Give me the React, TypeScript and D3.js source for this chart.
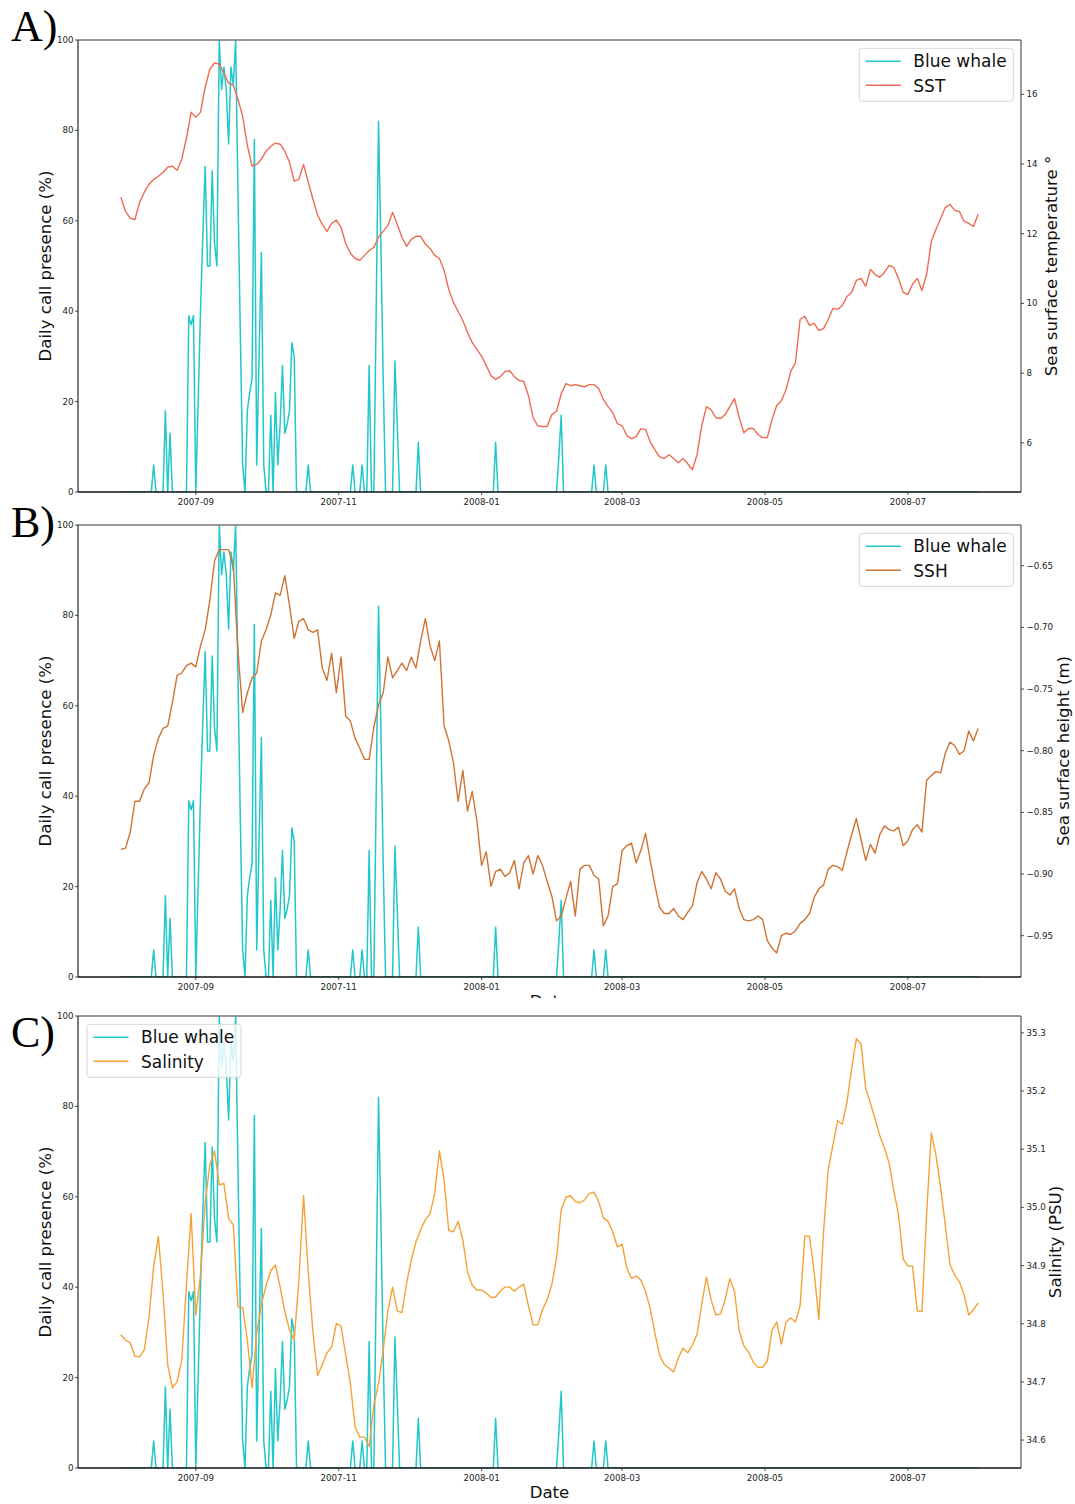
import React from 'react'
import * as d3 from 'd3'

// daily record
const firstDay = '2007-07-31'
const lastDay = '2008-07-31'

// blue whale daily call presence (%), one value per day from firstDay
const blueWhale = [
  0, 0, 0, 0, 0, 0, 0, 0, 0, 0,
  0, 0, 0, 0, 6, 0, 0, 0, 0, 18,
  0, 13, 0, 0, 0, 0, 0, 0, 0, 39,
  37, 39, 0, 20, 40, 57, 72, 50, 50, 71,
  55, 50, 100, 89, 94, 89, 77, 94, 90, 100,
  66, 35, 6, 0, 18, 22, 25, 78, 6, 30,
  53, 6, 0, 0, 17, 0, 22, 6, 15, 28,
  13, 15, 18, 33, 30, 0, 0, 0, 0, 0,
  6, 0, 0, 0, 0, 0, 0, 0, 0, 0,
  0, 0, 0, 0, 0, 0, 0, 0, 0, 6,
  0, 0, 0, 6, 0, 0, 28, 0, 0, 40,
  82, 55, 25, 0, 0, 0, 0, 29, 15, 0,
  0, 0, 0, 0, 0, 0, 0, 11, 0, 0,
  0, 0, 0, 0, 0, 0, 0, 0, 0, 0,
  0, 0, 0, 0, 0, 0, 0, 0, 0, 0,
  0, 0, 0, 0, 0, 0, 0, 0, 0, 0,
  11, 0, 0, 0, 0, 0, 0, 0, 0, 0,
  0, 0, 0, 0, 0, 0, 0, 0, 0, 0,
  0, 0, 0, 0, 0, 0, 0, 8, 17, 0,
  0, 0, 0, 0, 0, 0, 0, 0, 0, 0,
  0, 0, 6, 0, 0, 0, 0, 6, 0, 0,
  0, 0, 0, 0, 0, 0, 0, 0, 0, 0,
  0, 0, 0, 0, 0, 0, 0, 0, 0, 0,
  0, 0, 0, 0, 0, 0, 0, 0, 0, 0,
  0, 0, 0, 0, 0, 0, 0, 0, 0, 0,
  0, 0, 0, 0, 0, 0, 0, 0, 0, 0,
  0, 0, 0, 0, 0, 0, 0, 0, 0, 0,
  0, 0, 0, 0, 0, 0, 0, 0, 0, 0,
  0, 0, 0, 0, 0, 0, 0, 0, 0, 0,
  0, 0, 0, 0, 0, 0, 0, 0, 0, 0,
  0, 0, 0, 0, 0, 0, 0, 0, 0, 0,
  0, 0, 0, 0, 0, 0, 0, 0, 0, 0,
  0, 0, 0, 0, 0, 0, 0, 0, 0, 0,
  0, 0, 0, 0, 0, 0, 0, 0, 0, 0,
  0, 0, 0, 0, 0, 0, 0, 0, 0, 0,
  0, 0, 0, 0, 0, 0, 0, 0, 0, 0,
  0, 0, 0, 0, 0, 0, 0,
]

// environmental series, one value every 2 days from firstDay
const envStepDays = 2

// sea surface temperature (deg C)
const sst = [
  13.05, 12.64, 12.44, 12.41, 12.90, 13.19, 13.42, 13.56, 13.65, 13.76,
  13.91, 13.94, 13.82, 14.14, 14.74, 15.49, 15.34, 15.49, 16.21, 16.72,
  16.90, 16.87, 16.61, 16.32, 16.26, 15.86, 15.37, 14.54, 13.94, 13.99,
  14.14, 14.37, 14.51, 14.60, 14.57, 14.37, 14.05, 13.51, 13.56, 13.99,
  13.48, 12.99, 12.53, 12.27, 12.07, 12.30, 12.39, 12.18, 11.72, 11.44,
  11.29, 11.24, 11.38, 11.52, 11.61, 11.90, 12.07, 12.24, 12.61, 12.27,
  11.90, 11.64, 11.84, 11.93, 11.93, 11.70, 11.58, 11.38, 11.29, 10.95,
  10.40, 10.03, 9.77, 9.51, 9.17, 8.88, 8.68, 8.48, 8.22, 7.93,
  7.82, 7.90, 8.05, 8.07, 7.90, 7.79, 7.76, 7.36, 6.72, 6.49,
  6.47, 6.47, 6.81, 6.90, 7.41, 7.70, 7.64, 7.67, 7.64, 7.61,
  7.67, 7.67, 7.56, 7.24, 7.04, 6.87, 6.55, 6.49, 6.21, 6.12,
  6.18, 6.41, 6.38, 6.03, 5.80, 5.60, 5.55, 5.66, 5.55, 5.43,
  5.55, 5.40, 5.23, 5.66, 6.49, 7.04, 6.95, 6.72, 6.70, 6.81,
  7.04, 7.27, 6.72, 6.29, 6.41, 6.41, 6.24, 6.15, 6.15, 6.67,
  7.07, 7.21, 7.53, 8.05, 8.30, 9.54, 9.63, 9.37, 9.43, 9.22,
  9.28, 9.54, 9.86, 9.83, 9.94, 10.20, 10.32, 10.66, 10.72, 10.49,
  10.98, 10.83, 10.75, 10.89, 11.09, 11.03, 10.72, 10.32, 10.26, 10.55,
  10.72, 10.37, 10.83, 11.78, 12.13, 12.44, 12.76, 12.84, 12.67, 12.64,
  12.36, 12.30, 12.21, 12.56,
]

// sea surface height (m)
const ssh = [
  -0.880, -0.879, -0.866, -0.841, -0.841, -0.831, -0.826, -0.804, -0.790, -0.782,
  -0.780, -0.761, -0.739, -0.737, -0.731, -0.729, -0.732, -0.715, -0.702, -0.678,
  -0.646, -0.637, -0.637, -0.637, -0.650, -0.719, -0.769, -0.753, -0.741, -0.737,
  -0.711, -0.702, -0.690, -0.672, -0.674, -0.658, -0.682, -0.709, -0.695, -0.693,
  -0.702, -0.704, -0.702, -0.733, -0.743, -0.721, -0.753, -0.724, -0.772, -0.776,
  -0.790, -0.798, -0.807, -0.807, -0.781, -0.763, -0.753, -0.724, -0.741, -0.735,
  -0.729, -0.735, -0.724, -0.733, -0.711, -0.693, -0.715, -0.727, -0.711, -0.780,
  -0.792, -0.810, -0.841, -0.816, -0.849, -0.833, -0.857, -0.893, -0.882, -0.910,
  -0.898, -0.896, -0.902, -0.899, -0.889, -0.912, -0.891, -0.885, -0.900, -0.885,
  -0.893, -0.906, -0.918, -0.938, -0.934, -0.920, -0.906, -0.934, -0.896, -0.893,
  -0.893, -0.901, -0.904, -0.942, -0.934, -0.910, -0.908, -0.881, -0.877, -0.875,
  -0.891, -0.881, -0.867, -0.889, -0.909, -0.927, -0.932, -0.932, -0.928, -0.934,
  -0.937, -0.931, -0.926, -0.907, -0.898, -0.904, -0.912, -0.899, -0.904, -0.914,
  -0.917, -0.912, -0.928, -0.937, -0.938, -0.937, -0.934, -0.937, -0.954, -0.960,
  -0.964, -0.950, -0.948, -0.949, -0.946, -0.940, -0.937, -0.932, -0.919, -0.912,
  -0.909, -0.896, -0.893, -0.894, -0.897, -0.882, -0.868, -0.855, -0.872, -0.889,
  -0.876, -0.883, -0.868, -0.861, -0.864, -0.865, -0.862, -0.877, -0.873, -0.864,
  -0.860, -0.866, -0.824, -0.820, -0.817, -0.818, -0.802, -0.793, -0.796, -0.803,
  -0.800, -0.784, -0.792, -0.782,
]

// salinity (PSU)
const salinity = [
  34.781, 34.772, 34.767, 34.744, 34.743, 34.755, 34.810, 34.899, 34.950, 34.853,
  34.729, 34.690, 34.700, 34.737, 34.866, 34.989, 34.815, 34.884, 35.008, 35.074,
  35.097, 35.039, 35.041, 34.981, 34.970, 34.829, 34.828, 34.772, 34.690, 34.784,
  34.833, 34.866, 34.891, 34.901, 34.863, 34.821, 34.789, 34.772, 34.875, 35.020,
  34.889, 34.786, 34.711, 34.730, 34.750, 34.760, 34.800, 34.796, 34.746, 34.697,
  34.622, 34.605, 34.605, 34.589, 34.660, 34.697, 34.755, 34.822, 34.863, 34.822,
  34.819, 34.870, 34.910, 34.941, 34.962, 34.979, 34.989, 35.024, 35.097, 35.046,
  34.960, 34.958, 34.976, 34.944, 34.889, 34.866, 34.858, 34.858, 34.853, 34.845,
  34.846, 34.856, 34.863, 34.863, 34.856, 34.863, 34.868, 34.831, 34.798, 34.798,
  34.824, 34.841, 34.868, 34.913, 34.996, 35.017, 35.020, 35.010, 35.008, 35.013,
  35.024, 35.026, 35.010, 34.982, 34.976, 34.958, 34.932, 34.937, 34.896, 34.878,
  34.882, 34.875, 34.856, 34.826, 34.784, 34.746, 34.730, 34.724, 34.717, 34.741,
  34.758, 34.750, 34.763, 34.782, 34.834, 34.880, 34.841, 34.815, 34.817, 34.841,
  34.878, 34.855, 34.788, 34.762, 34.751, 34.734, 34.725, 34.725, 34.736, 34.789,
  34.803, 34.765, 34.803, 34.810, 34.803, 34.831, 34.951, 34.950, 34.889, 34.807,
  34.958, 35.065, 35.107, 35.149, 35.143, 35.181, 35.239, 35.290, 35.281, 35.205,
  35.179, 35.152, 35.123, 35.102, 35.076, 35.029, 34.988, 34.911, 34.899, 34.899,
  34.822, 34.821, 34.988, 35.128, 35.090, 35.034, 34.969, 34.901, 34.884, 34.872,
  34.850, 34.815, 34.824, 34.836,
]

const callTicks = [0, 20, 40, 60, 80, 100]
const sstTicks = [6, 8, 10, 12, 14, 16]
const sshTicks = [-0.95, -0.9, -0.85, -0.8, -0.75, -0.7, -0.65]
const salinityTicks = [34.6, 34.7, 34.8, 34.9, 35.0, 35.1, 35.2, 35.3]

const width = 1075
const height = 1504
const plotLeft = 78
const plotRight = 1021
const font = 'DejaVu Sans, Verdana, sans-serif'
const whaleColor = '#22c7cb'

const parseDay = d3.utcParse('%Y-%m-%d')
const t0 = parseDay(firstDay) as Date
const t1 = parseDay(lastDay) as Date
// matplotlib-style 5% margin on the date axis
const datePad = (t1.getTime() - t0.getTime()) * 0.05
const xScale = d3
  .scaleUtc()
  .domain([new Date(t0.getTime() - datePad), new Date(t1.getTime() + datePad)])
  .range([plotLeft, plotRight])
const xTicks = xScale.ticks(d3.utcMonth.every(2) as d3.TimeInterval)
const fmtMonth = d3.utcFormat('%Y-%m')

type PanelProps = {
  id: string
  top: number
  bottom: number
  letter: string
  letterY: number
  series: number[]
  color: string
  name: string
  label: string
  labelX: number
  domain: [number, number]
  ticks: number[]
  fmt: (v: number) => string
  legendX: number
  xLabel?: boolean
}

function Panel(p: PanelProps) {
  const yLeft = d3.scaleLinear().domain([0, 100]).range([p.bottom, p.top])
  const yRight = d3.scaleLinear().domain(p.domain).range([p.bottom, p.top])

  const whalePath = d3
    .line<number>()
    .x((_, i) => xScale(d3.utcDay.offset(t0, i)))
    .y(v => yLeft(v))(blueWhale)
  const envPath = d3
    .line<number>()
    .x((_, i) => xScale(d3.utcDay.offset(t0, i * envStepDays)))
    .y(v => yRight(v))(p.series)

  const midY = (p.top + p.bottom) / 2
  const lgTop = p.top + 8.3

  return (
    <g>
      <defs>
        <clipPath id={p.id}>
          <rect x={plotLeft} y={p.top} width={plotRight - plotLeft} height={p.bottom - p.top} />
        </clipPath>
      </defs>

      {/* panel letter */}
      <text x={11} y={p.letterY} fontFamily="Liberation Serif, Times New Roman, serif" fontSize={44} fill="#000">
        {p.letter}
      </text>

      {/* lines */}
      <g clipPath={`url(#${p.id})`}>
        <path d={whalePath ?? ''} fill="none" stroke={whaleColor} strokeWidth={1.5} strokeLinejoin="round" />
        <path d={envPath ?? ''} fill="none" stroke={p.color} strokeWidth={1.4} strokeLinejoin="round" />
      </g>

      {/* frame */}
      <line x1={plotLeft} x2={plotRight} y1={p.top} y2={p.top} stroke="#777" strokeWidth={1.6} />
      <line x1={plotRight} x2={plotRight} y1={p.top} y2={p.bottom} stroke="#555" strokeWidth={1.2} />
      <line x1={plotLeft} x2={plotLeft} y1={p.top} y2={p.bottom} stroke="#111" strokeWidth={1.1} />
      <line x1={plotLeft} x2={plotRight} y1={p.bottom} y2={p.bottom} stroke="#111" strokeWidth={1.3} />

      {/* left axis */}
      {callTicks.map(t => (
        <g key={`l${t}`} transform={`translate(${plotLeft} ${yLeft(t)})`}>
          <line x1={-3} x2={0} stroke="#222" strokeWidth={0.8} />
          <text x={-4.5} dy="0.34em" textAnchor="end" fontFamily={font} fontSize={8.7} fill="#222">{t}</text>
        </g>
      ))}
      <text
        transform={`translate(50.5 ${midY}) rotate(-90)`}
        textAnchor="middle"
        fontFamily={font}
        fontSize={16.6}
        fill="#111"
      >
        Daily call presence (%)
      </text>

      {/* right axis */}
      {p.ticks.map(t => (
        <g key={`r${t}`} transform={`translate(${plotRight} ${yRight(t)})`}>
          <line x1={0} x2={3} stroke="#222" strokeWidth={0.8} />
          <text x={5.5} dy="0.34em" textAnchor="start" fontFamily={font} fontSize={8.7} fill="#222">{p.fmt(t)}</text>
        </g>
      ))}
      <text
        transform={`translate(${p.labelX} ${midY}) rotate(-90)`}
        textAnchor="middle"
        fontFamily={font}
        fontSize={16.6}
        fill="#111"
      >
        {p.label}
      </text>

      {/* date axis */}
      {xTicks.map(t => (
        <g key={t.toISOString()} transform={`translate(${xScale(t)} ${p.bottom})`}>
          <line y1={0} y2={3} stroke="#222" strokeWidth={0.8} />
          <text y={12.5} textAnchor="middle" fontFamily={font} fontSize={8.7} fill="#222">{fmtMonth(t)}</text>
        </g>
      ))}
      {p.xLabel && (
        <text x={(plotLeft + plotRight) / 2} y={p.bottom + 30} textAnchor="middle" fontFamily={font} fontSize={16.6} fill="#111">
          Date
        </text>
      )}

      {/* legend */}
      <g transform={`translate(${p.legendX} ${lgTop})`}>
        <rect width={154} height={53} rx={3} fill="#fff" fillOpacity={0.8} stroke="#d6d6d6" strokeWidth={1} />
        <line x1={6.5} x2={41.5} y1={13} y2={13} stroke={whaleColor} strokeWidth={1.5} />
        <line x1={6.5} x2={41.5} y1={37} y2={37} stroke={p.color} strokeWidth={1.5} />
        <text x={54} y={19.2} fontFamily={font} fontSize={17} fill="#111">Blue whale</text>
        <text x={54} y={43.5} fontFamily={font} fontSize={17} fill="#111">{p.name}</text>
      </g>
    </g>
  )
}

const fmtSst = (v: number) => d3.format('d')(v)
const fmtSsh = d3.format('.2f')
const fmtSal = d3.format('.1f')

export default function App() {
  return (
    <svg
      width={width}
      height={height}
      viewBox={`0 0 ${width} ${height}`}
      style={{ position: 'absolute', left: 0, top: 0, background: '#fff' }}
    >
      <rect width={width} height={height} fill="#fff" />
      <Panel
        id="clipA"
        top={40}
        bottom={492}
        letter="A)"
        letterY={41}
        series={sst}
        color="#ee6c53"
        name="SST"
        label="Sea surface temperature °"
        labelX={1056.5}
        domain={[4.59, 17.56]}
        ticks={sstTicks}
        fmt={fmtSst}
        legendX={859.3}
      />
      <Panel
        id="clipB"
        top={525}
        bottom={977}
        letter="B)"
        letterY={537}
        series={ssh}
        color="#cf7333"
        name="SSH"
        label="Sea surface height (m)"
        labelX={1069}
        domain={[-0.9835, -0.617]}
        ticks={sshTicks}
        fmt={fmtSsh}
        legendX={859.3}
        xLabel
      />
      {/* the lower panel sits over the middle panel's date label */}
      <rect x={0} y={998} width={width} height={height - 998} fill="#fff" />
      <Panel
        id="clipC"
        top={1016}
        bottom={1468}
        letter="C)"
        letterY={1047}
        series={salinity}
        color="#f4a236"
        name="Salinity"
        label="Salinity (PSU)"
        labelX={1061}
        domain={[34.552, 35.329]}
        ticks={salinityTicks}
        fmt={fmtSal}
        legendX={87}
        xLabel
      />
    </svg>
  )
}
